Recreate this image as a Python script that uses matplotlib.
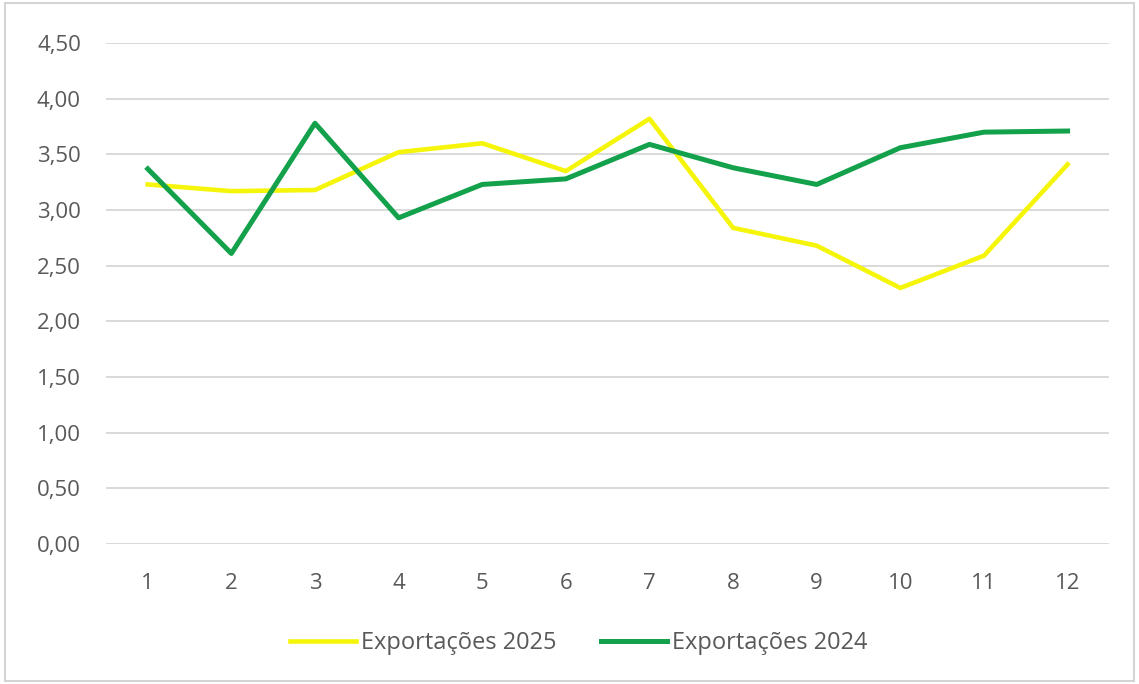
import matplotlib.pyplot as plt
from matplotlib.patches import Rectangle
from matplotlib.ticker import FuncFormatter

# -------------------- DATA --------------------
months = list(range(1, 13))
exp_2025 = [3.23, 3.17, 3.18, 3.52, 3.60, 3.35, 3.82, 2.84, 2.68, 2.30, 2.59, 3.41]
exp_2024 = [3.37, 2.61, 3.78, 2.93, 3.23, 3.28, 3.59, 3.38, 3.23, 3.56, 3.70, 3.71]
y_ticks = [0, 0.5, 1.0, 1.5, 2.0, 2.5, 3.0, 3.5, 4.0, 4.5]

# -------------------- STYLE --------------------
plt.rcParams['font.family'] = ['Open Sans', 'DejaVu Sans']
TXT = '#595959'
GRID = '#d9d9d9'
YELLOW = '#f5f50a'
GREEN = '#13a14b'
FS = 16

fig = plt.figure(figsize=(11.39, 6.84), dpi=100)
fig.patches.append(Rectangle((0.004, 0.004), 0.992, 0.992, transform=fig.transFigure,
                             fill=False, edgecolor='#d4d4d4', linewidth=1.5))
ax = fig.add_axes([0.093, 0.2047, 0.881, 0.7323])

ax.plot(months, exp_2025, color=YELLOW, linewidth=3.3, label='Exportações 2025',
        solid_joinstyle='round', zorder=3)
ax.plot(months, exp_2024, color=GREEN, linewidth=3.6, label='Exportações 2024',
        solid_joinstyle='round', zorder=4)

ax.set_xlim(0.5, 12.5)
ax.set_ylim(0, 4.5)
ax.set_xticks(months)
ax.set_yticks(y_ticks)
ax.yaxis.set_major_formatter(FuncFormatter(lambda v, p: f"{v:.2f}".replace('.', ',')))
ax.grid(axis='y', color=GRID, linewidth=1.4)
ax.set_axisbelow(True)
for s in ax.spines.values():
    s.set_visible(False)
ax.tick_params(axis='both', length=0, labelsize=FS, colors=TXT)
ax.tick_params(axis='y', pad=18)
ax.tick_params(axis='x', pad=21)

# legend text in the reference is a bit wider than the tick labels
leg = fig.legend(loc='center', bbox_to_anchor=(0.508, 0.06), ncol=2, frameon=False,
                 fontsize=17, handlelength=2.8, handletextpad=0.2, columnspacing=1.9)
for t in leg.get_texts():
    t.set_color(TXT)

fig.savefig('out.png', dpi=100, facecolor='white')
